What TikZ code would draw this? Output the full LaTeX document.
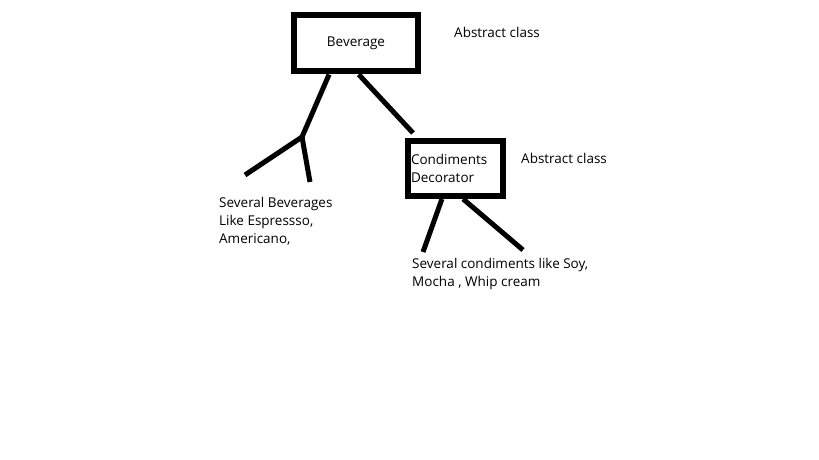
\documentclass[tikz,border=0pt]{standalone}
\usepackage{fontspec}
\setmainfont{Open Sans}

\begin{document}
\begin{tikzpicture}[x=1pt,y=-1pt,
    caja/.style={draw, line width=6pt, rectangle, inner sep=0pt},
    rama/.style={line width=5pt},
    txt/.style={inner sep=0pt, align=left, font=\fontsize{13.5}{18}\selectfont}]
    \useasboundingbox (0,0) rectangle (819,460);

    % clases
    \node[caja, txt, minimum width=124pt, minimum height=56pt] (beverage) at (356,43.5) {Beverage};
    \node[txt, anchor=north west] (abs1) at (454,27) {Abstract class};

    \node[caja, txt, minimum width=95pt, minimum height=55pt, text width=89pt] (condiments) at (455.5,168.5)
        {Condiments\\Decorator};
    \node[txt, anchor=north west] (abs2) at (521,153) {Abstract class};

    % textos de las ramas
    \node[txt, anchor=north west] (bebidas) at (219,197) {Several Beverages\\Like Espressso,\\Americano,};
    \node[txt, anchor=north west] (condim) at (412,258) {Several condiments like Soy,\\Mocha , Whip cream};

    % puntos libres
    \coordinate (nudo) at (302,137);
    \coordinate (hoja1) at (245,175);
    \coordinate (hoja2) at (310,182);
    \coordinate (deco) at (413,133);
    \coordinate (hoja3) at (423,252);
    \coordinate (hoja4) at (523,250);

    % ramas
    \draw[rama] (beverage.229.5) -- (nudo);
    \draw[rama] (hoja1) -- (nudo) -- (hoja2);
    \draw[rama] (beverage.-85) -- (deco);
    \draw[rama] (condiments.-114) -- (hoja3);
    \draw[rama] (condiments.-76) -- (hoja4);
\end{tikzpicture}
\end{document}
